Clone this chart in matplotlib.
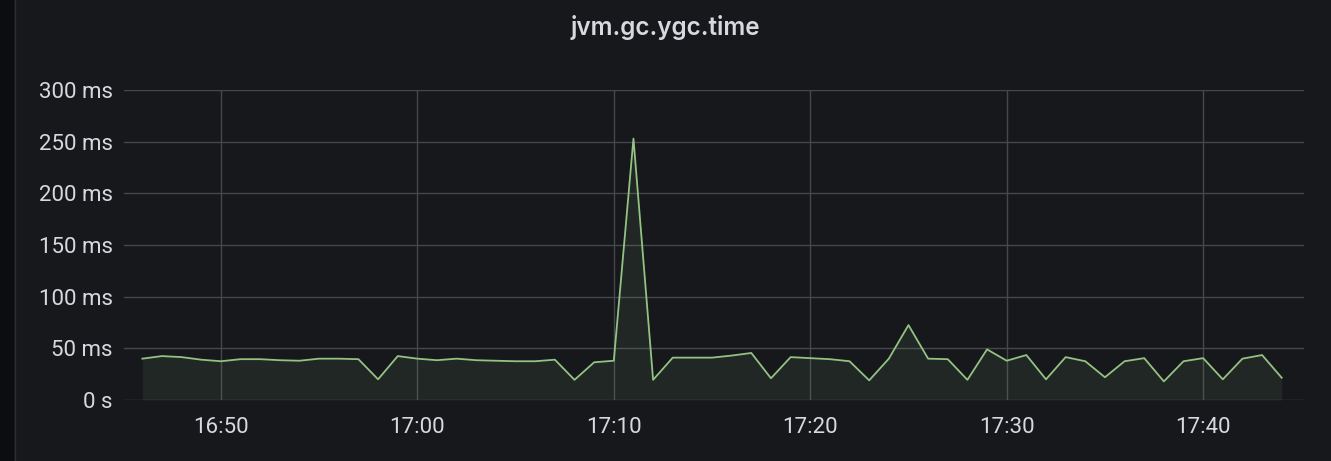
import matplotlib
matplotlib.use("Agg")
import matplotlib.pyplot as plt
import matplotlib.dates as mdates
import pandas as pd

# one sample per minute, 16:46 .. 17:44
times = pd.date_range("2024-01-01 16:46", "2024-01-01 17:44", freq="1min")
ygc_ms = [40, 42.5, 41.5, 39, 37.5, 39.5, 39.5, 38.5, 38, 40,
          40, 39.5, 20, 42.5, 40, 38.5, 40, 38.5, 38, 37.5,
          37.5, 39, 19.5, 36.5, 38, 253, 19.5, 41, 41, 41,
          43, 45.5, 21, 41.5, 40.5, 39.5, 37.5, 19, 40, 72.5,
          40, 39.5, 19.5, 49, 38, 43.5, 20, 41.5, 37.5, 22,
          37.5, 40.5, 18, 37.5, 40.5, 20, 40, 43.5, 21.5]
yticks = [0, 50, 100, 150, 200, 250, 300]
ylabels = ["0 s", "50 ms", "100 ms", "150 ms", "200 ms", "250 ms", "300 ms"]

bg = "#16181c"
txt = "#d8d9de"
grid = "#44474c"
green = "#94c283"

plt.rcParams["font.family"] = ["Roboto", "DejaVu Sans"]

fig = plt.figure(figsize=(13.31, 4.61), dpi=100)
fig.patch.set_facecolor(bg)
# darker strip + panel border on the left edge
fig.patches.append(plt.Rectangle((0, 0), 14 / 1331, 1, transform=fig.transFigure,
                                 facecolor="#0c0d10", edgecolor="none"))
fig.lines.append(plt.Line2D([14.5 / 1331, 14.5 / 1331], [0, 1], transform=fig.transFigure,
                            color="#2a2c31", lw=1))

ax = fig.add_axes([124 / 1331, 1 - 400 / 461, (1304 - 124) / 1331, 310 / 461])
ax.set_facecolor(bg)

ax.plot(times, ygc_ms, color=green, lw=1.3)
ax.fill_between(times, ygc_ms, 0, color=green, alpha=0.09, lw=0)

start = pd.Timestamp("2024-01-01 16:45:04")
end = pd.Timestamp("2024-01-01 17:45:08")
ax.set_xlim(start, end)
ax.set_ylim(0, 300)

ax.set_yticks(yticks)
ax.set_yticklabels(ylabels)
ax.xaxis.set_major_locator(mdates.MinuteLocator(byminute=[0, 10, 20, 30, 40, 50]))
ax.xaxis.set_major_formatter(mdates.DateFormatter("%H:%M"))

ax.grid(True, color=grid, lw=1)
ax.set_axisbelow(True)
for s in ax.spines.values():
    s.set_visible(False)
ax.tick_params(length=0, colors=txt, labelsize=16)
ax.tick_params(axis="y", pad=8)
ax.tick_params(axis="x", pad=12)

fig.text(665 / 1331, 1 - 28 / 461, "jvm.gc.ygc.time", ha="center", va="center",
         color=txt, fontsize=17.5, fontweight="semibold", family=["Inter", "DejaVu Sans"])

fig.savefig("out.png", dpi=100, facecolor=bg)
